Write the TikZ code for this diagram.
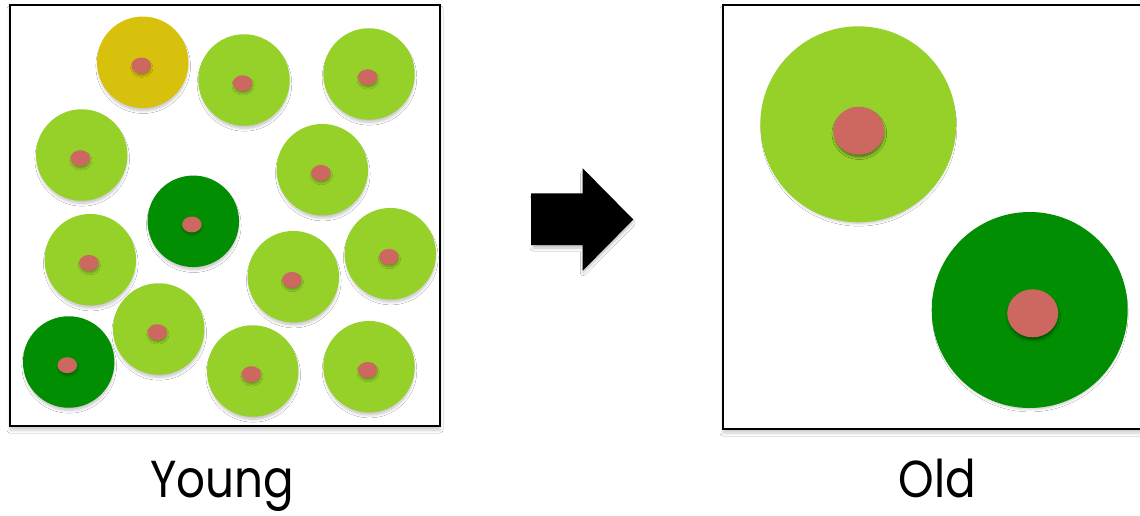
\documentclass[tikz,border=0pt]{standalone}
\usepackage{fontspec}
\setmainfont{Poppins}
\newfontfamily\labelfont[FakeStretch=0.87]{Poppins}
\usetikzlibrary{shapes.geometric,shadows.blur}
\definecolor{leafgreen}{HTML}{96D12A}
\definecolor{deepgreen}{HTML}{028E02}
\definecolor{ochre}{HTML}{D7C10C}
\definecolor{nucleus}{HTML}{CC6860}
\tikzset{
  softshadow/.style={blur shadow={shadow xshift=0.5pt, shadow yshift=-4pt,
      shadow scale=0.97, shadow blur radius=3pt, shadow blur steps=6,
      shadow opacity=25}},
  cell/.style={circle, fill=#1, draw=none, inner sep=0pt,
      minimum size=91.5pt, softshadow},
  bigcell/.style={cell=#1, minimum size=196pt},
  nuc/.style={ellipse, fill=nucleus, draw=none, inner sep=0pt,
      minimum width=19.5pt, minimum height=16pt,
      blur shadow={shadow xshift=0.5pt, shadow yshift=-2.5pt,
      shadow scale=0.95, shadow blur radius=2pt, shadow blur steps=5,
      shadow opacity=30}},
  bignuc/.style={nuc, minimum width=51pt, minimum height=48pt,
      blur shadow={shadow xshift=0.5pt, shadow yshift=-3pt,
      shadow scale=0.96, shadow blur radius=3pt, shadow blur steps=6,
      shadow opacity=30}},
  frame/.style={draw=black, line width=2pt, fill=white,
      blur shadow={shadow xshift=0pt, shadow yshift=-4pt,
      shadow blur radius=3pt, shadow blur steps=6, shadow opacity=20}},
  caption/.style={font=\labelfont\fontsize{52}{56}\selectfont, inner sep=0pt, anchor=base}
}
\begin{document}
\begin{tikzpicture}[x=1pt,y=-1pt]
  \useasboundingbox (0,0) rectangle (1140,516);
  \clip (0,0) rectangle (1140,516);
  \fill[white] (0,0) rectangle (1140,516);

  % young population
  \node[frame, minimum width=430pt, minimum height=421pt, inner sep=0pt] (youngbox) at (225,215.5) {};
  \node[cell=ochre]     (y1)  at (142.7,62.3)  {};
  \node[cell=leafgreen] (y2)  at (244,80)      {};
  \node[cell=leafgreen] (y3)  at (369,74)      {};
  \node[cell=leafgreen] (y4)  at (81.7,155)    {};
  \node[cell=leafgreen] (y5)  at (322.3,169.7) {};
  \node[cell=deepgreen] (y6)  at (193.3,221.3) {};
  \node[cell=leafgreen] (y7)  at (90.3,259.7)  {};
  \node[cell=leafgreen] (y8)  at (293.3,276.7) {};
  \node[cell=leafgreen] (y9)  at (390.3,253.7) {};
  \node[cell=leafgreen] (y10) at (158.7,329)   {};
  \node[cell=deepgreen] (y11) at (68.7,362)    {};
  \node[cell=leafgreen] (y12) at (252.7,371)   {};
  \node[cell=leafgreen] (y13) at (369,366.7)   {};
  \foreach \i in {1,...,13} {
    \node[nuc] (n\i) at ([shift={(-1.4,3.2)}]y\i.center) {};
  }

  % old population
  \node[frame, minimum width=440pt, minimum height=424pt, inner sep=0pt] (oldbox) at (943,217) {};
  \node[bigcell=leafgreen] (o1) at (858.3,124.3) {};
  \node[bigcell=deepgreen] (o2) at (1029.7,310)  {};
  \node[bignuc] (m1) at ([shift={(0.5,6.4)}]o1.center) {};
  \node[bignuc] (m2) at ([shift={(3,3.3)}]o2.center) {};

  % transition arrow
  \fill[black, softshadow] (531,193.3) -- (582.7,193.3) -- (582.7,168.3) -- (633.3,219.5)
    -- (582.7,270.7) -- (582.7,245) -- (531,245) -- cycle;

  % captions
  \node[caption] (ylabel) at (222,497) {Young};
  \node[caption] (olabel) at (937.5,497) {Old};
\end{tikzpicture}
\end{document}
